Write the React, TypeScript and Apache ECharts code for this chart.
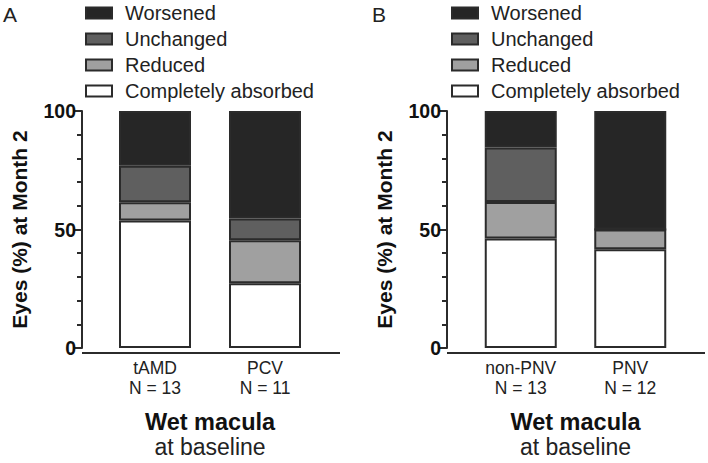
import React, { useEffect, useRef } from "react";
import * as echarts from "echarts";

const seriesNames = ["Completely absorbed", "Reduced", "Unchanged", "Worsened"];
const legendOrder = ["Worsened", "Unchanged", "Reduced", "Completely absorbed"];
const seriesColors = ["#ffffff", "#a0a0a0", "#5f5f5f", "#262626"];

const categoriesA = ["tAMD\nN = 13", "PCV\nN = 11"];
const absorbedA = [53.8, 27.3];
const reducedA = [7.7, 18.2];
const unchangedA = [15.4, 9.1];
const worsenedA = [23.1, 45.4];

const categoriesB = ["non-PNV\nN = 13", "PNV\nN = 12"];
const absorbedB = [46.2, 41.7];
const reducedB = [15.4, 8.3];
const unchangedB = [23.0, 0];
const worsenedB = [15.4, 50.0];

const yTicks = [0, 50, 100];
const panelLabels = ["A", "B"];
const xTitle = ["Wet macula", "at baseline"];
const yTitle = "Eyes (%) at Month 2";

const FONT = "'Liberation Sans', Arial, Helvetica, sans-serif";
const AX = "#2b2b2b";

export default function App() {
  const ref = useRef<HTMLDivElement>(null);
  useEffect(() => {
    if (!ref.current) return;
    const chart = echarts.init(ref.current, null, { renderer: "svg" });
    const gridTop = 111;
    const gridBottom = 110;
    const grids = [
      { left: 100, width: 220, yOff: 18 },
      { left: 466, width: 219, yOff: 19 },
    ];
    const panels = [
      { cats: categoriesA, vals: [absorbedA, reducedA, unchangedA, worsenedA] },
      { cats: categoriesB, vals: [absorbedB, reducedB, unchangedB, worsenedB] },
    ];
    const series: any[] = [];
    panels.forEach((p, pi) => {
      p.vals.forEach((v, si) => {
        series.push({
          type: "bar",
          name: seriesNames[si],
          xAxisIndex: pi,
          yAxisIndex: pi,
          stack: "s" + pi,
          barWidth: 72,
          data: v,
          itemStyle: { color: seriesColors[si], borderColor: AX, borderWidth: 2 },
        });
      });
    });
    const H = 463;
    const axisY = H - gridBottom;
    const graphic: any[] = [];
    grids.forEach((g, i) => {
      graphic.push({
        type: "line",
        shape: { x1: g.left - g.yOff, y1: axisY, x2: g.left + g.width + 20, y2: axisY },
        style: { stroke: AX, lineWidth: 2 },
        z: 10,
      });
      graphic.push({
        type: "text",
        left: i === 0 ? 3 : 372,
        top: 4,
        style: { text: panelLabels[i], font: `21px ${FONT}`, fill: "#222" },
      });
    });
    chart.setOption({
      animation: false,
      grid: grids.map((g) => ({ left: g.left, width: g.width, top: gridTop, bottom: gridBottom })),
      xAxis: panels.map((p, i) => ({
        type: "category",
        gridIndex: i,
        data: p.cats,
        axisLine: { show: false },
        axisTick: { show: false },
        axisLabel: { fontFamily: FONT, fontSize: 17.5, color: "#222", lineHeight: 20, margin: 10 },
        name: `{b|${xTitle[0]}}\n{n|${xTitle[1]}}`,
        nameLocation: "middle",
        nameGap: 61,
        nameTextStyle: {
          rich: {
            b: { fontFamily: FONT, fontSize: 23.5, fontWeight: "bold", color: "#111", lineHeight: 25 },
            n: { fontFamily: FONT, fontSize: 23, color: "#222", lineHeight: 25 },
          },
        },
      })),
      yAxis: grids.map((g, i) => ({
        type: "value",
        gridIndex: i,
        min: 0,
        max: 100,
        interval: 50,
        offset: g.yOff,
        axisLine: { show: true, lineStyle: { color: AX, width: 2 } },
        axisTick: { show: true, length: 9, lineStyle: { color: AX, width: 2 } },
        minorTick: { show: true, splitNumber: 5, length: 5, lineStyle: { color: AX, width: 2 } },
        splitLine: { show: false },
        axisLabel: {
          fontFamily: FONT,
          fontSize: 19.5,
          fontWeight: "bold",
          color: "#111",
          margin: 6,
          formatter: (v: number) => (yTicks.includes(v) ? String(v) : ""),
        },
        name: yTitle,
        nameLocation: "middle",
        nameGap: 52,
        nameTextStyle: { fontFamily: FONT, fontSize: 21, fontWeight: "bold", color: "#111" },
      })),
      legend: [85, 451].map((left) => ({
        orient: "vertical",
        left,
        top: 3,
        padding: 0,
        data: legendOrder,
        icon: "rect",
        itemWidth: 26,
        itemHeight: 11,
        itemGap: 6,
        selectedMode: false,
        textStyle: { fontFamily: FONT, fontSize: 20, color: "#222", padding: [0, 0, 0, 8], lineHeight: 20 },
      })),
      series,
      graphic,
    });
    return () => chart.dispose();
  }, []);
  return <div ref={ref} style={{ width: 708, height: 463, position: "absolute", left: 0, top: 0 }} />;
}
